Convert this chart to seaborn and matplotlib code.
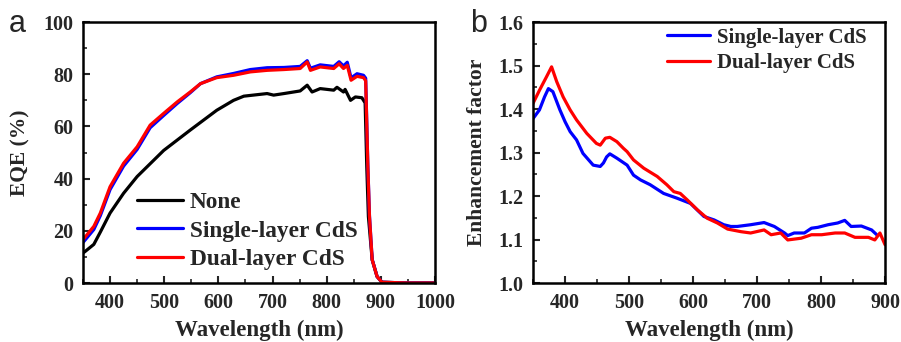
import numpy as np
import pandas as pd
import matplotlib
matplotlib.use("Agg")
import matplotlib.pyplot as plt
from matplotlib.ticker import MultipleLocator, FormatStrFormatter
import seaborn as sns

# ---- panel a : EQE (%) ----
wl_none = [350, 354, 370, 382, 400, 425, 450, 499, 548, 597, 628, 647, 690, 702, 721, 751, 764, 773,
           788, 813, 819, 831, 834, 844, 853, 865, 871, 874, 877, 884, 893, 902, 950, 1000]
eqe_none = [11.5, 12.1, 14.8, 19.5, 26.8, 34.4, 40.8, 50.8, 58.6, 66.2, 70.0, 71.6, 72.6, 72.0, 72.6,
            73.6, 75.8, 73.2, 74.5, 73.9, 75.0, 73.2, 74.2, 70.0, 71.3, 71.0, 69.0, 44.6, 25.5,
            8.9, 2.5, 0.3, 0.0, 0.0]

wl_dual = [350, 370, 382, 400, 425, 450, 474, 499, 524, 548, 567, 597, 628, 659, 690, 721, 751,
           764, 770, 788, 813, 823, 831, 838, 845, 856, 868, 872, 876, 879, 884, 893, 902, 950, 1000]
eqe_dual = [16.6, 21.7, 26.8, 36.9, 45.9, 52.2, 60.5, 65.0, 69.4, 73.2, 76.4, 78.7, 79.6, 80.9,
            81.5, 81.8, 82.2, 84.7, 81.5, 82.8, 82.2, 84.0, 82.2, 83.4, 77.7, 79.2, 78.7, 77.5,
            44.6, 25.5, 8.9, 2.5, 0.3, 0.0, 0.0]

wl_single = wl_dual
eqe_single = [15.5, 20.5, 25.8, 35.8, 44.8, 51.2, 59.5, 64.2, 68.8, 72.9, 76.4, 79.0, 80.3, 81.8,
              82.5, 82.6, 83.0, 85.2, 82.3, 83.6, 83.0, 84.8, 83.2, 84.6, 78.6, 80.2, 79.6, 78.5,
              45.0, 25.8, 9.0, 2.5, 0.3, 0.0, 0.0]

# ---- panel b : enhancement factor ----
wl_b_single = [350, 360, 368, 374, 381, 392, 400, 408, 418, 428, 444, 455, 460, 465, 470, 481, 497,
               507, 518, 533, 554, 575, 596, 617, 633, 648, 659, 669, 690, 711, 727, 743, 748, 758,
               774, 785, 795, 811, 826, 837, 847, 863, 879, 887]
ef_single = [1.378, 1.398, 1.428, 1.447, 1.440, 1.398, 1.371, 1.348, 1.329, 1.298, 1.271, 1.268,
             1.276, 1.290, 1.297, 1.287, 1.271, 1.248, 1.237, 1.226, 1.206, 1.195, 1.183, 1.153,
             1.145, 1.134, 1.130, 1.130, 1.134, 1.139, 1.130, 1.115, 1.109, 1.115, 1.115, 1.126,
             1.128, 1.134, 1.138, 1.144, 1.130, 1.131, 1.122, 1.111]

wl_b_dual = [350, 360, 371, 379, 387, 397, 408, 418, 434, 449, 455, 463, 470, 481, 491, 497, 507,
             523, 544, 559, 570, 580, 591, 607, 622, 638, 654, 675, 690, 711, 722, 737, 748, 769,
             785, 801, 822, 837, 853, 874, 884, 892, 900]
ef_dual = [1.413, 1.443, 1.474, 1.497, 1.463, 1.428, 1.398, 1.375, 1.344, 1.321, 1.317, 1.333,
           1.335, 1.325, 1.310, 1.302, 1.283, 1.264, 1.245, 1.226, 1.210, 1.206, 1.191, 1.168,
           1.149, 1.138, 1.124, 1.118, 1.115, 1.122, 1.111, 1.115, 1.099, 1.103, 1.111, 1.111,
           1.115, 1.115, 1.105, 1.105, 1.099, 1.115, 1.088]

labels_a = ["None", "Single-layer CdS", "Dual-layer CdS"]
colors_a = ["black", "#0000ff", "#ff0000"]

df_a = pd.concat([
    pd.DataFrame({"wl": wl_none, "val": eqe_none, "sample": labels_a[0]}),
    pd.DataFrame({"wl": wl_single, "val": eqe_single, "sample": labels_a[1]}),
    pd.DataFrame({"wl": wl_dual, "val": eqe_dual, "sample": labels_a[2]}),
])
df_b = pd.concat([
    pd.DataFrame({"wl": wl_b_single, "val": ef_single, "sample": labels_a[1]}),
    pd.DataFrame({"wl": wl_b_dual, "val": ef_dual, "sample": labels_a[2]}),
])

sns.set_style("ticks")
plt.rcParams["font.family"] = ["Liberation Serif", "DejaVu Serif"]
plt.rcParams["font.weight"] = "bold"
plt.rcParams["axes.labelweight"] = "bold"

fig = plt.figure(figsize=(9.01, 3.42), dpi=100)
ax1 = fig.add_axes([0.0921, 0.1725, 0.3907, 0.763])
ax2 = fig.add_axes([0.5916, 0.1725, 0.3907, 0.763])

sns.lineplot(data=df_a, x="wl", y="val", hue="sample", palette=colors_a, hue_order=labels_a,
             linewidth=2.3, ax=ax1, sort=True)
sns.lineplot(data=df_b, x="wl", y="val", hue="sample", palette=colors_a[1:], hue_order=labels_a[1:],
             linewidth=2.3, ax=ax2, sort=True)

for ax in (ax1, ax2):
    for sp in ax.spines.values():
        sp.set_linewidth(1.8)
        sp.set_color("black")
    ax.tick_params(which="major", direction="in", length=5, width=1.5, labelsize=14.5,
                   top=False, right=False, pad=7)
    ax.tick_params(which="minor", direction="in", length=3, width=1.2, top=False, right=False)
    ax.xaxis.set_major_locator(MultipleLocator(100))
    ax.xaxis.set_minor_locator(MultipleLocator(50))
    ax.set_xlabel("Wavelength (nm)", fontsize=16.5, fontweight="bold", labelpad=5)
    for t in ax.get_xticklabels() + ax.get_yticklabels():
        t.set_fontweight("bold")

ax1.set_xlim(350, 1000)
ax1.set_ylim(0, 100)
ax1.yaxis.set_major_locator(MultipleLocator(20))
ax1.yaxis.set_minor_locator(MultipleLocator(10))
ax1.set_ylabel("EQE (%)", fontsize=15.5, fontweight="bold", labelpad=9)

ax2.set_xlim(350, 900)
ax2.set_ylim(1.0, 1.6)
ax2.yaxis.set_major_locator(MultipleLocator(0.1))
ax2.yaxis.set_minor_locator(MultipleLocator(0.05))
ax2.yaxis.set_major_formatter(FormatStrFormatter("%.1f"))
ax2.set_ylabel("Enhancement factor", fontsize=15.5, fontweight="bold", labelpad=8)

h, l = ax1.get_legend_handles_labels()
ax1.legend(h, l, loc="lower left", bbox_to_anchor=(0.095, -0.03), frameon=False,
           prop={"family": "Liberation Serif", "weight": "bold", "size": 16.8},
           handlelength=1.95, handletextpad=0.3, labelspacing=0.3)
h, l = ax2.get_legend_handles_labels()
ax2.legend(h, l, loc="upper right", bbox_to_anchor=(1.0, 1.05), frameon=False,
           prop={"family": "Liberation Serif", "weight": "bold", "size": 15},
           handlelength=2.1, handletextpad=0.3, labelspacing=0.25)

fig.text(0.01, 0.905, "a", fontsize=22, family="Liberation Sans", fontweight="normal")
fig.text(0.522, 0.905, "b", fontsize=22, family="Liberation Sans", fontweight="normal")

fig.savefig("out.png", dpi=100)
